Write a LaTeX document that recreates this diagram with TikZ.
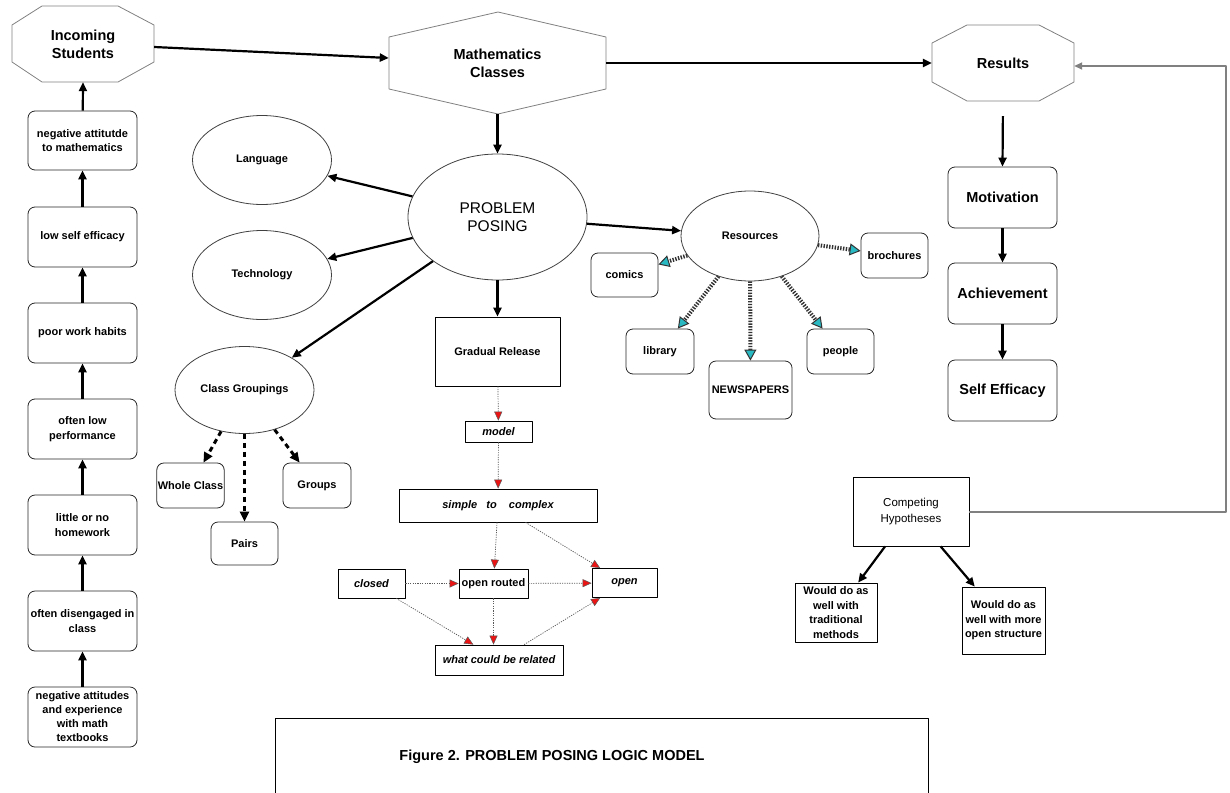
\documentclass[tikz,border=0pt]{standalone}
\usepackage{fontspec}
\setmainfont{Liberation Sans}
\usetikzlibrary{arrows.meta,shapes.geometric}
\definecolor{headcyan}{RGB}{40,185,195}
\definecolor{headred}{RGB}{235,20,20}
\begin{document}
\begin{tikzpicture}[x=1pt,y=-1pt,line join=round,
  sm/.style={font=\fontsize{11}{14.5}\selectfont\bfseries},
  smi/.style={font=\fontsize{11}{14.5}\selectfont\bfseries\itshape},
  bg/.style={font=\fontsize{14.5}{18}\selectfont\bfseries},
  rbox/.style={draw=black!85, line width=0.8pt, rounded corners=7pt, align=center, inner sep=1pt, sm},
  sbox/.style={draw=black, line width=0.8pt, align=center, inner sep=1pt, sm},
  ell/.style={draw=black!75, line width=0.8pt, ellipse, inner sep=0pt, align=center, sm},
  poly/.style={draw=black!50, line width=0.8pt},
  ghost/.style={inner sep=0pt, align=center},
  harrow/.style={line width=2.2pt, -{Triangle[length=9pt,width=8pt]}},
  garrow/.style={line width=2pt, draw=black!50, -{Triangle[length=8pt,width=7pt]}},
  rarrow/.style={line width=0.7pt, draw=black!65, dash pattern=on 1.2pt off 1.2pt, -{Triangle[length=9pt,width=8pt,fill=headred,line width=0.5pt]}},
  carrow/.style={line width=4pt, draw=black!80, dash pattern=on 1.4pt off 1.4pt, -{Triangle[length=11pt,width=12pt,fill=headcyan,line width=1pt]}},
  darrow/.style={line width=3pt, dash pattern=on 5pt off 4pt, -{Triangle[length=10pt,width=9pt]}}
]
\useasboundingbox (0,0) rectangle (1230,792);

% ---------- polygons ----------
\draw[poly] (42,6) -- (118,6) -- (154,25) -- (154,62) -- (118,82) -- (42,82) -- (12,62) -- (12,25) -- cycle;
\draw[poly] (498,12) -- (606,37) -- (606,89) -- (498,114) -- (389,89) -- (389,37) -- cycle;
\draw[poly] (967,25) -- (1039,25) -- (1074,43) -- (1074,82) -- (1039,101) -- (967,101) -- (932,82) -- (932,43) -- cycle;

\node[ghost, bg, minimum width=142pt, minimum height=76pt] (inc) at (83,44) {Incoming\\Students};
\node[ghost, bg, minimum width=217pt, minimum height=102pt] (math) at (497.5,63) {Mathematics\\Classes};
\node[ghost, bg, minimum width=142pt, minimum height=76pt] (res) at (1003,63) {Results};

% ---------- left column ----------
\node[rbox, minimum width=109pt, minimum height=59pt] (L1) at (82.5,140.5) {negative attitutde\\to mathematics};
\node[rbox, minimum width=109pt, minimum height=60pt] (L2) at (82.5,237) {low self efficacy};
\node[rbox, minimum width=109pt, minimum height=60pt] (L3) at (82.5,333) {poor work habits};
\node[rbox, minimum width=109pt, minimum height=60pt] (L4) at (82.5,429) {often low\\performance};
\node[rbox, minimum width=109pt, minimum height=60pt] (L5) at (82.5,525) {little or no\\homework};
\node[rbox, minimum width=109pt, minimum height=60pt] (L6) at (82.5,621) {often disengaged in\\class};
\node[rbox, font=\fontsize{11}{14}\selectfont\bfseries, minimum width=109pt, minimum height=60pt] (L7) at (82.5,717) {negative attitudes\\and experience\\with math\\textbooks};

% ---------- right column ----------
\node[rbox, bg, minimum width=109pt, minimum height=61pt] (mot) at (1002.5,197.5) {Motivation};
\node[rbox, bg, minimum width=109pt, minimum height=61pt] (ach) at (1002.5,293.5) {Achievement};
\node[rbox, bg, minimum width=109pt, minimum height=61pt] (se) at (1002.5,390.5) {Self Efficacy};

% ---------- ellipses ----------
\node[ell, font=\fontsize{15.5}{18}\selectfont, minimum width=179pt, minimum height=126pt] (pp) at (497.5,217) {PROBLEM\\POSING};
\node[ell, minimum width=139pt, minimum height=89pt] (lang) at (262,160) {Language};
\node[ell, minimum width=139pt, minimum height=89pt] (tech) at (262,275) {Technology};
\node[ell, minimum width=139pt, minimum height=87pt] (cg) at (244.5,390) {Class Groupings};
\node[ell, minimum width=138pt, minimum height=90pt] (rs) at (750,236) {Resources};

% ---------- gradual release chain ----------
\node[sbox, minimum width=125pt, minimum height=69pt] (gr) at (497.5,351.5) {Gradual Release};
\node[sbox, smi, minimum width=67pt, minimum height=21pt] (model) at (498.5,431.5) {model};
\node[sbox, smi, minimum width=198pt, minimum height=33pt] (sc) at (498,505.5) {simple\ \ \ to\ \ \ \ complex};
\node[sbox, smi, minimum width=67pt, minimum height=29pt] (closed) at (371.5,583.5) {closed};
\node[sbox, minimum width=69pt, minimum height=29pt] (orouted) at (493.5,583.5) {open routed};
\node[sbox, smi, minimum width=65pt, minimum height=29pt] (opn) at (624.5,583) {open};
\node[sbox, smi, minimum width=128pt, minimum height=30pt] (what) at (499,660) {what could be related};

% ---------- resources ----------
\node[rbox, minimum width=67pt, minimum height=44pt] (comics) at (624.5,275) {comics};
\node[rbox, minimum width=67pt, minimum height=45pt] (broch) at (894.5,255.5) {brochures};
\node[rbox, minimum width=68pt, minimum height=45pt] (lib) at (660,351.5) {library};
\node[rbox, minimum width=83pt, minimum height=58pt] (news) at (750.5,390) {NEWSPAPERS};
\node[rbox, minimum width=67pt, minimum height=45pt] (people) at (840.5,351.5) {people};

% ---------- class groupings ----------
\node[rbox, minimum width=67pt, minimum height=45pt] (whole) at (190.5,485.5) {Whole Class};
\node[rbox, minimum width=68pt, minimum height=45pt] (groups) at (317,485.5) {Groups};
\node[rbox, minimum width=67pt, minimum height=43pt] (pairs) at (244.5,543.5) {Pairs};

% ---------- hypotheses ----------
\node[sbox, font=\fontsize{11.5}{16}\selectfont, minimum width=116pt, minimum height=69pt] (comp) at (911,511.5) {Competing\\Hypotheses};
\node[sbox, minimum width=82pt, minimum height=59pt] (trad) at (836,612.5) {Would do as\\well with\\traditional\\methods};
\node[sbox, minimum width=83pt, minimum height=67pt] (wopen) at (1003.5,620.5) {Would do as\\well with more\\open structure};

% ---------- caption ----------
\draw[line width=0.8pt] (275,795) -- (275,718) -- (928,718) -- (928,795);
\node[font=\fontsize{14.5}{17}\selectfont\bfseries] (cap) at (552,757) {Figure 2. PROBLEM POSING LOGIC MODEL};

% ---------- connectors ----------
\draw[harrow] ([yshift=-3pt]inc.east) -- ([yshift=5pt]math.west);
\draw[harrow] (math.east) -- (res.east -| res.west);
\draw[harrow] (math.south) -- (pp.north);
\draw[harrow, shorten <=15pt] (res.south) -- (mot.north);
\draw[harrow] (mot) -- (ach);
\draw[harrow] (ach) -- (se);

\draw[harrow] (L1) -- (inc.south);
\draw[harrow] (L2) -- (L1);
\draw[harrow] (L3) -- (L2);
\draw[harrow] (L4) -- (L3);
\draw[harrow] (L5) -- (L4);
\draw[harrow] (L6) -- (L5);
\draw[harrow] (L7) -- (L6);

\draw[harrow] (pp) -- (lang);
\draw[harrow] (pp) -- (tech);
\draw[harrow] (pp) -- (cg);
\draw[harrow] (pp) -- (rs);
\draw[harrow] (pp.south) -- (gr.north);

\draw[rarrow] (gr) -- (model);
\draw[rarrow] (model) -- (sc);
\draw[rarrow] (sc) -- (orouted);
\draw[rarrow] (sc) -- (opn);
\draw[rarrow] (closed) -- (orouted);
\draw[rarrow] (orouted) -- (opn);
\draw[rarrow] (closed) -- (what);
\draw[rarrow] (orouted.south) -- (what.north -| orouted.south);
\draw[rarrow] (what) -- (opn);

\draw[carrow] (rs) -- (comics);
\draw[carrow] (rs) -- (broch);
\draw[carrow] (rs) -- (lib);
\draw[carrow] (rs) -- (news);
\draw[carrow] (rs) -- (people);

\draw[darrow] (cg) -- (whole);
\draw[darrow] (cg) -- (pairs);
\draw[darrow] (cg) -- (groups);

\draw[harrow] (comp) -- (trad);
\draw[harrow] (comp) -- (wopen);

\coordinate (fb1) at (1226,511.5);
\coordinate (fb2) at (1226,66);
\draw[garrow] (comp.east) -- (fb1) -- (fb2) -- (res.east |- fb2);
\end{tikzpicture}
\end{document}
